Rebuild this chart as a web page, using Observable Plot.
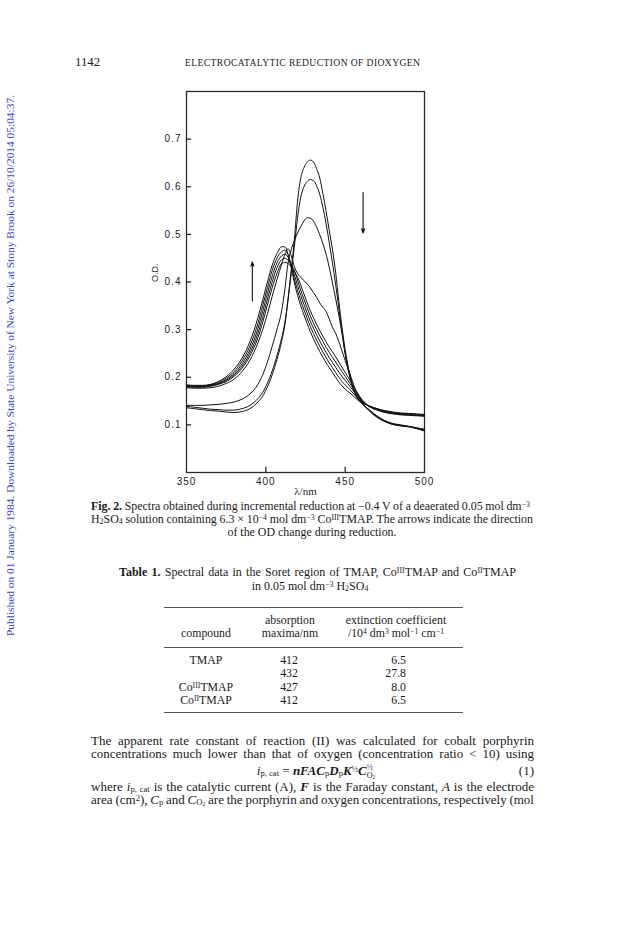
<!DOCTYPE html>
<html>
<head>
<meta charset="utf-8">
<script src="https://cdn.jsdelivr.net/npm/d3@7"></script>
<script src="https://cdn.jsdelivr.net/npm/@observablehq/plot@0.6"></script>
<style>
  html, body { margin: 0; padding: 0; background: #fff; }
  body { width: 624px; height: 936px; position: relative; overflow: hidden; font-family: "Liberation Serif", serif; color: #1a1a1a; }
  .ln { position: absolute; white-space: nowrap; line-height: 13px; }
  .c { text-align: center; }
  .r { text-align: right; }
  sup { font-size: 66%; vertical-align: 0.4em; line-height: 0; }
  sub { font-size: 66%; vertical-align: -0.15em; line-height: 0; }
  .stk { display: inline-flex; flex-direction: column; font-size: 62%; line-height: 1; vertical-align: middle; text-align: left; }
  .rule { position: absolute; height: 0; border-top: 1px solid #555; }
  #chart { position: absolute; left: 135px; top: 60px; }
  #chart svg { overflow: visible; }
  #chart g[aria-label="y-axis tick label"] text, #chart g[aria-label="x-axis tick label"] text { letter-spacing: 1px; }
  #side { position: absolute; left: 0; top: 0; }
</style>
</head>
<body>
<div id="chart"></div>
<script>
// ---- data ----
const wavelengths = [350,355,360,365,370,375,380,385,390,395,398,401,404,407,410,412,414,416,418,420,422,424,426,428,430,432,434,436,438,440,442,444,446,448,450,453,456,460,465,470,475,480,485,490,495,500];

// Co(III)-rich spectra (declining 427 nm band)
const specA = [0.136,0.134,0.132,0.130,0.129,0.127,0.126,0.128,0.134,0.148,0.160,0.180,0.205,0.237,0.276,0.310,0.365,0.425,0.490,0.570,0.618,0.640,0.651,0.656,0.652,0.638,0.618,0.585,0.548,0.508,0.468,0.420,0.360,0.305,0.258,0.205,0.170,0.148,0.132,0.118,0.108,0.102,0.099,0.097,0.093,0.089];
const specB = [0.139,0.137,0.135,0.133,0.132,0.131,0.131,0.134,0.141,0.155,0.168,0.188,0.213,0.245,0.283,0.315,0.362,0.418,0.475,0.535,0.578,0.600,0.611,0.615,0.613,0.602,0.584,0.556,0.522,0.482,0.440,0.395,0.345,0.295,0.250,0.200,0.168,0.147,0.131,0.117,0.107,0.101,0.098,0.096,0.092,0.087];
const specC = [0.141,0.141,0.141,0.142,0.143,0.145,0.148,0.154,0.165,0.185,0.205,0.232,0.265,0.300,0.340,0.385,0.440,0.468,0.487,0.503,0.516,0.528,0.535,0.534,0.528,0.515,0.499,0.480,0.458,0.430,0.398,0.365,0.330,0.292,0.250,0.200,0.168,0.148,0.132,0.119,0.109,0.103,0.100,0.097,0.094,0.090];
const specD = [0.178,0.177,0.177,0.178,0.181,0.187,0.196,0.212,0.236,0.272,0.300,0.333,0.370,0.405,0.438,0.458,0.470,0.455,0.432,0.418,0.410,0.403,0.396,0.388,0.378,0.368,0.356,0.347,0.338,0.322,0.305,0.292,0.275,0.255,0.235,0.207,0.178,0.150,0.130,0.116,0.107,0.101,0.098,0.096,0.093,0.091];
// Co(II)-rich spectra (rising 412 nm band)
const specE = [0.184,0.183,0.183,0.185,0.191,0.201,0.217,0.240,0.275,0.325,0.362,0.400,0.435,0.460,0.474,0.474,0.458,0.430,0.398,0.372,0.350,0.331,0.313,0.296,0.281,0.267,0.254,0.242,0.230,0.220,0.210,0.200,0.190,0.182,0.175,0.167,0.158,0.147,0.140,0.134,0.130,0.127,0.125,0.124,0.123,0.122];
const specF = [0.183,0.182,0.182,0.184,0.189,0.198,0.212,0.234,0.266,0.313,0.350,0.388,0.424,0.450,0.464,0.467,0.457,0.434,0.406,0.382,0.361,0.342,0.324,0.307,0.292,0.278,0.265,0.253,0.241,0.230,0.220,0.210,0.200,0.191,0.184,0.174,0.163,0.149,0.140,0.134,0.129,0.126,0.124,0.123,0.122,0.121];
const specG = [0.182,0.181,0.181,0.183,0.187,0.195,0.208,0.228,0.258,0.302,0.338,0.376,0.412,0.440,0.455,0.458,0.452,0.437,0.415,0.393,0.372,0.353,0.335,0.318,0.303,0.289,0.276,0.264,0.252,0.241,0.231,0.221,0.211,0.202,0.193,0.181,0.168,0.152,0.139,0.133,0.128,0.125,0.123,0.122,0.121,0.120];
const specH = [0.181,0.180,0.180,0.182,0.186,0.193,0.205,0.223,0.251,0.292,0.326,0.364,0.400,0.430,0.447,0.450,0.446,0.437,0.424,0.404,0.383,0.364,0.346,0.329,0.314,0.300,0.287,0.275,0.263,0.252,0.242,0.232,0.222,0.212,0.202,0.187,0.172,0.154,0.139,0.132,0.127,0.124,0.122,0.121,0.120,0.119];
const specI = [0.180,0.179,0.179,0.181,0.185,0.191,0.202,0.219,0.245,0.283,0.315,0.352,0.388,0.418,0.439,0.441,0.439,0.432,0.422,0.410,0.394,0.375,0.357,0.340,0.325,0.311,0.298,0.286,0.274,0.263,0.253,0.243,0.232,0.221,0.210,0.194,0.177,0.156,0.139,0.131,0.126,0.123,0.121,0.120,0.119,0.118];

const xTicks = [350, 400, 450, 500];
const yTicks = [0.1, 0.2, 0.3, 0.4, 0.5, 0.6, 0.7];

// arrows: wavelength, start OD, end OD
const arrowX = [391.5, 461.3];
const arrowFrom = [0.36, 0.588];
const arrowTo = [0.442, 0.503];

// ---- build ----
const spectra = [specA, specB, specC, specD, specE, specF, specG, specH, specI];
const rows = spectra.flatMap((s, k) => wavelengths.map((w, j) => ({w, od: s[j], k})));
const arrows = arrowX.map((x, i) => ({x, y1: arrowFrom[i], y2: arrowTo[i]}));

const chart = Plot.plot({
  width: 320, height: 440,
  marginLeft: 51, marginRight: 31, marginTop: 31, marginBottom: 28,
  style: {fontFamily: "'Liberation Sans', sans-serif", fontSize: "10px", color: "#1a1a1a", background: "transparent"},
  x: {domain: [350, 500]},
  y: {domain: [0, 0.8]},
  marks: [
    Plot.frame({stroke: "#2a2a2a", strokeWidth: 1.3}),
    Plot.ruleY(yTicks, {y: d => d, x1: 350, x2: 353.2, stroke: "#1a1a1a", strokeWidth: 1.2}),
    Plot.ruleX(xTicks.slice(1, 3), {x: d => d, y1: 0, y2: 0.011, stroke: "#1a1a1a", strokeWidth: 1.2}),
    Plot.line(rows, {x: "w", y: "od", z: "k", curve: "monotone-x", stroke: "#111", strokeWidth: 1}),
    Plot.arrow(arrows, {x1: "x", y1: "y1", x2: "x", y2: "y2", stroke: "#111", strokeWidth: 1.1, headLength: 6, headAngle: 40}),
    Plot.axisX(xTicks, {tickSize: 0, tickPadding: 5, label: null, fontSize: 10}),
    Plot.axisY(yTicks, {tickSize: 0, tickPadding: 5, tickFormat: d => d.toFixed(1), label: null, fontSize: 10}),
    Plot.text(["O.D."], {frameAnchor: "left", dx: -31, rotate: -90, fontSize: 9, fontFamily: "'Liberation Sans', sans-serif"}),
    Plot.text(["λ/nm"], {frameAnchor: "bottom", dy: 22, fontSize: 11, fontFamily: "'Liberation Serif', serif"})
  ]
});
document.getElementById("chart").appendChild(chart);

// ---- page text ----
function line(html, x, y, w, cls, size, extra) {
  const d = document.createElement("div");
  d.className = "ln " + (cls || "");
  d.style.left = x + "px";
  d.style.top = (y - 6.5) + "px";
  if (w) d.style.width = w + "px";
  d.style.fontSize = (size || 12) + "px";
  if (extra) Object.assign(d.style, extra);
  if (cls === "j") {
    const s = document.createElement("span");
    s.innerHTML = html;
    d.appendChild(s);
    document.body.appendChild(d);
    const natural = s.getBoundingClientRect().width;
    const spaces = (s.textContent.match(/ /g) || []).length;
    if (spaces) s.style.wordSpacing = ((w - natural) / spaces) + "px";
  } else {
    d.innerHTML = html;
    document.body.appendChild(d);
  }
}
function rule(x1, x2, y) {
  const d = document.createElement("div");
  d.className = "rule";
  d.style.left = x1 + "px"; d.style.width = (x2 - x1) + "px"; d.style.top = y + "px";
  document.body.appendChild(d);
}

line("1142", 75, 62, null, "", 12.8);
line("ELECTROCATALYTIC REDUCTION OF DIOXYGEN", 185, 62, null, "", 9.6, {letterSpacing: "0.4px"});

line("<b>Fig. 2.</b> Spectra obtained during incremental reduction at \u22120.4 V of a deaerated 0.05 mol dm<sup>\u22123</sup>", 91, 506, 439, "j", 11.9);
line("H<sub>2</sub>SO<sub>4</sub> solution containing 6.3 \u00d7 10<sup>\u22124</sup> mol dm<sup>\u22123</sup> Co<sup>III</sup>TMAP. The arrows indicate the direction", 91, 519, 442, "j", 11.9);
line("of the OD change during reduction.", 91, 532, 442, "c", 11.9);

line("<b>Table 1.</b> Spectral data in the Soret region of TMAP, Co<sup>III</sup>TMAP and Co<sup>II</sup>TMAP", 119, 572, 397, "j", 12);
line("in 0.05 mol dm<sup>\u22123</sup> H<sub>2</sub>SO<sub>4</sub>", 160, 586, 300, "c", 12);

rule(164, 463, 607);
rule(164, 463, 647);
rule(164, 463, 712);

line("absorption", 240, 620, 100, "c", 11.8);
line("maxima/nm", 240, 633, 100, "c", 11.8);
line("extinction coefficient", 326, 620, 140, "c", 11.8);
line("/10<sup>4</sup> dm<sup>3</sup> mol<sup>\u22121</sup> cm<sup>\u22121</sup>", 326, 633, 140, "c", 11.8);
line("compound", 156, 633, 100, "c", 11.8);

const tblCompound = ["TMAP", "", "Co<sup>III</sup>TMAP", "Co<sup>II</sup>TMAP"];
const tblMaxima = ["412", "432", "427", "412"];
const tblExt = ["6.5", "27.8", "8.0", "6.5"];
const rowY = [660, 673.5, 687, 700];
rowY.forEach((y, i) => {
  if (tblCompound[i]) line(tblCompound[i], 156, y, 100, "c", 11.8);
  line(tblMaxima[i], 239, y, 100, "c", 11.8);
  line(tblExt[i], 346, y, 60, "r", 11.8);
});

line("The apparent rate constant of reaction (II) was calculated for cobalt porphyrin", 91, 740, 443, "j", 13);
line("concentrations much lower than that of oxygen (concentration ratio &lt; 10) using", 91, 753, 443, "j", 13);
line("<i>i</i><sub>p, cat</sub> = <b><i>nFAC</i></b><sub>p</sub><b><i>D</i></b><sub>p</sub><b><i>K</i></b><sup>\u00bd</sup><b><i>C</i></b><span class='stk'><span>\u00bd</span><span>O<sub>2</sub></span></span>", 216, 770, 200, "c", 13);
line("(1)", 494, 770, 40, "r", 13);
line("where <i>i</i><sub>p, cat</sub> is the catalytic current (A), <b><i>F</i></b> is the Faraday constant, <i>A</i> is the electrode", 91, 786, 443, "j", 13);
line("area (cm<sup>2</sup>), <i>C</i><sub>p</sub> and <i>C</i><sub>O<sub>2</sub></sub> are the porphyrin and oxygen concentrations, respectively (mol", 91, 799, 443, "j", 13);

// side watermark
const ns = "http://www.w3.org/2000/svg";
const side = document.createElementNS(ns, "svg");
side.setAttribute("width", 30); side.setAttribute("height", 700);
side.id = "side";
const t = document.createElementNS(ns, "text");
t.setAttribute("transform", "translate(14,636) rotate(-90)");
t.setAttribute("textLength", "541");
t.setAttribute("lengthAdjust", "spacingAndGlyphs");
t.setAttribute("font-family", "'Liberation Serif', serif");
t.setAttribute("font-size", "10.5");
t.setAttribute("fill", "#3c3ccc");
t.textContent = "Published on 01 January 1984. Downloaded by State University of New York at Stony Brook on 26/10/2014 05:04:37.";
side.appendChild(t);
document.body.appendChild(side);
</script>
</body>
</html>
